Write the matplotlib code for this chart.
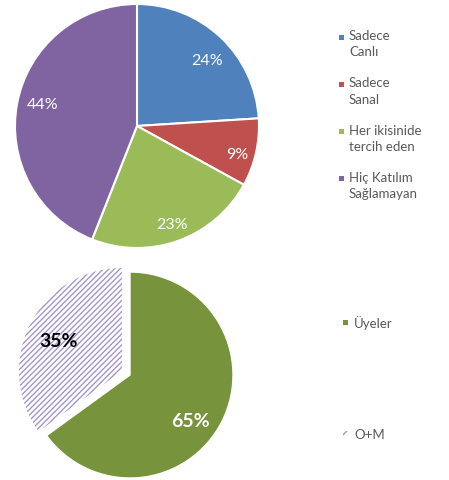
import matplotlib
matplotlib.use("Agg")
import numpy as np
import matplotlib.pyplot as plt
from matplotlib.patches import Rectangle

# canvas in pixels
W, H = 449, 481

# top chart data
top_labels = ["Sadece\nCanlı", "Sadece\nSanal", "Her ikisinide\ntercih eden", "Hiç Katılım\nSağlamayan"]
top_values = [24, 9, 23, 44]
top_colors = ["#4F81BD", "#C0504D", "#9BBB59", "#8064A2"]

# bottom chart data
bottom_labels = ["Üyeler", "O+M"]
bottom_values = [65, 35]
bottom_green = "#77933C"
bottom_hatch = "#A497C8"

# label placement (fraction of radius, angle nudge in degrees)
top_lab_dist = [0.80, 0.85, 0.84, 0.80]
top_lab_shift = [-3, -2, 0, -3]

plt.rcParams["font.family"] = ["Lato", "DejaVu Sans"]
plt.rcParams["hatch.linewidth"] = 1.0

fig = plt.figure(figsize=(W / 100, H / 100), dpi=100)
ax = fig.add_axes([0, 0, 1, 1])


def put_label(w, text, dist, shift=0.0, **kw):
    # label along the wedge's mid angle, dist as fraction of radius
    mid = np.deg2rad((w.theta1 + w.theta2) / 2 + shift)
    x = w.center[0] + dist * w.r * np.cos(mid)
    y = w.center[1] + dist * w.r * np.sin(mid)
    ax.text(x, y, text, ha="center", va="center_baseline", **kw)


# top pie
wedges_top, _ = ax.pie(
    top_values,
    colors=top_colors,
    startangle=90,
    counterclock=False,
    center=(137, H - 127),
    radius=122,
    wedgeprops=dict(edgecolor="white", linewidth=1.5),
)
for w, v, d, s in zip(wedges_top, top_values, top_lab_dist, top_lab_shift):
    put_label(w, f"{v}%", d, shift=s, color="white", fontsize=11.5)

# bottom pie, second slice pulled out and hatched
# (explode is in data units here, the axes are in pixels)
wedges_bot, _ = ax.pie(
    bottom_values,
    colors=[bottom_green, "white"],
    startangle=90,
    counterclock=False,
    explode=(0, 9),
    center=(130, H - 376),
    radius=103,
    wedgeprops=dict(edgecolor="white", linewidth=1.0),
)
wedges_bot[1].set_hatch("//////")
wedges_bot[1].set_edgecolor(bottom_hatch)
wedges_bot[1].set_linewidth(0)

put_label(wedges_bot[0], f"{bottom_values[0]}%", 0.72, shift=-9, color="white",
          fontsize=14, fontweight="bold")
put_label(wedges_bot[1], f"{bottom_values[1]}%", 0.69, color="black",
          fontsize=14, fontweight="bold")

ax.set_xlim(0, W)
ax.set_ylim(0, H)
ax.set_aspect("equal")
ax.axis("off")

# legends, drawn by hand so the marker sits on the first line
txt_color = "#595959"
for i, (lab, col) in enumerate(zip(top_labels, top_colors)):
    yc = H - (38 + i * 47.3)
    ax.add_patch(Rectangle((339.5, yc - 2.5), 5, 5, facecolor=col, edgecolor="none"))
    ax.text(349, yc + 8, lab, color=txt_color, fontsize=9.5, ha="left", va="top",
            linespacing=1.42)

bot_leg_y = [323, 435]
ax.add_patch(Rectangle((343.5, H - bot_leg_y[0] - 2.5), 5, 5, facecolor=bottom_green,
                       edgecolor="none"))
ax.add_patch(Rectangle((343, H - bot_leg_y[1] - 3), 6, 6, facecolor="white",
                       edgecolor=bottom_hatch, linewidth=0, hatch="///"))
for lab, yy in zip(bottom_labels, bot_leg_y):
    ax.text(354, H - yy, lab, color=txt_color, fontsize=9.5, ha="left", va="center")

fig.savefig("out.png", dpi=100)
